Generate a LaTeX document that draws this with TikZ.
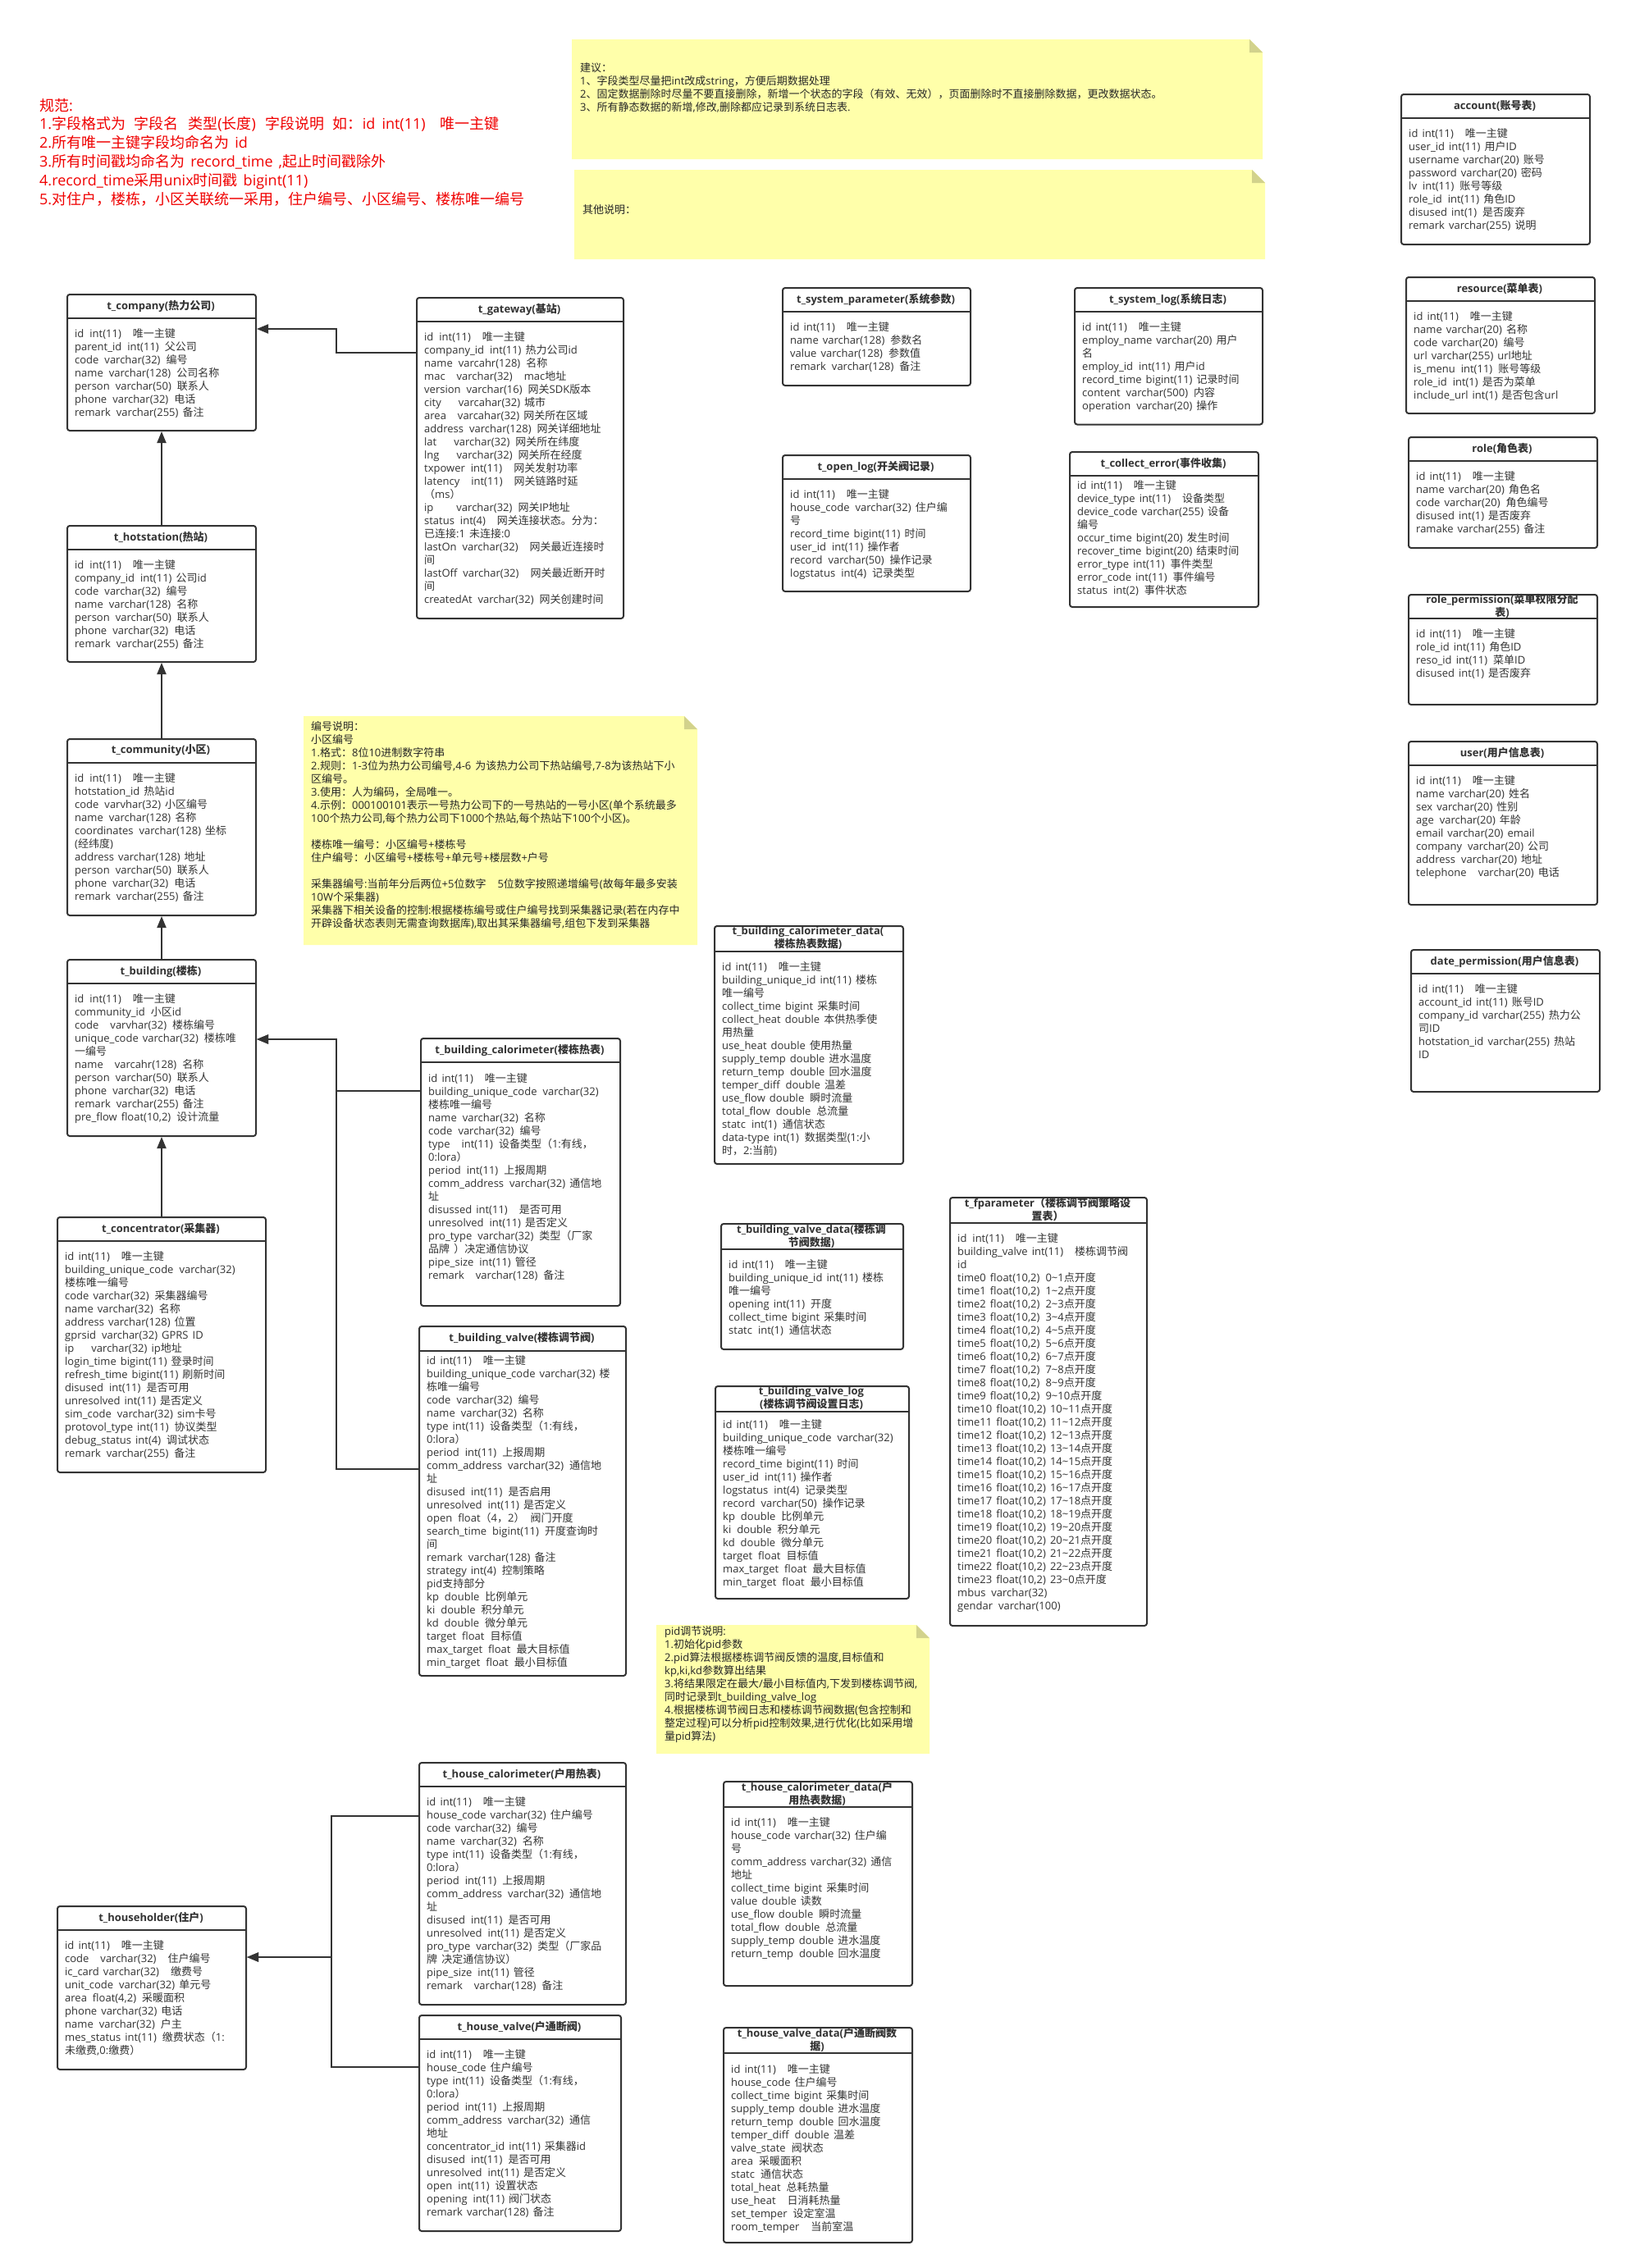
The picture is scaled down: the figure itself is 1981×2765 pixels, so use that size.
\documentclass[tikz,border=0pt]{standalone}
\usepackage{fontspec}
\setmainfont{Open Sans}[WordSpace=1.5]
\newfontfamily\cjkfont{Noto Sans CJK SC}
\XeTeXinterchartokenstate=1
\newXeTeXintercharclass\CJKcls
\newcount\mycnt
\mycnt="2E80
\loop
  \XeTeXcharclass\mycnt=\CJKcls
  \ifnum\mycnt<"9FFF \advance\mycnt by 1
\repeat
\mycnt="FF00
\loop
  \XeTeXcharclass\mycnt=\CJKcls
  \ifnum\mycnt<"FFEF \advance\mycnt by 1
\repeat
\XeTeXinterchartoks 0 \CJKcls = {\begingroup\cjkfont}
\XeTeXinterchartoks 4095 \CJKcls = {\begingroup\cjkfont}
\XeTeXinterchartoks \CJKcls 0 = {\endgroup}
\XeTeXinterchartoks \CJKcls 4095 = {\endgroup}
\usetikzlibrary{arrows.meta}
\definecolor{lc}{HTML}{333333}
\definecolor{tc}{HTML}{333333}
\definecolor{notefill}{HTML}{FFFFAA}
\definecolor{foldfill}{HTML}{D2D28C}
\definecolor{redtxt}{HTML}{F00000}
\newcommand\gA{\hspace{7pt}}
\newcommand\gB{\hspace{14pt}}
\newcommand\tld{\textasciitilde}
\tikzset{
  tblbox/.style={draw=lc, line width=2pt, rounded corners=3pt, fill=white, inner sep=0pt, outer sep=1pt},
  tbltitle/.style={font=\fontsize{13pt}{16pt}\selectfont\bfseries, text=tc, align=center, inner sep=0pt},
  tblbody/.style={font=\fontsize{13pt}{16pt}\selectfont, text=tc, align=left, inner sep=0pt, anchor=north west},
  conn/.style={draw=lc, line width=2pt, -{Triangle[length=14pt,width=11pt]}},
  notetext/.style={font=\fontsize{13pt}{16pt}\selectfont, text=black!85, align=left, inner sep=0pt, anchor=north west},
  redtext/.style={font=\fontsize{18pt}{22.8pt}\selectfont, text=redtxt, align=left, inner sep=0pt, anchor=north west}
}
% name, x1, y1, x2, y2, header y, title, first-line centre y, body
\newcommand\dbt[9]{%
  \node[tblbox, anchor=north west, minimum width={#4-#2}, minimum height={#5-#3}] (#1) at (#2,#3) {};
  \draw[draw=lc, line width=2pt] (#2,#6) -- (#4,#6);
  \node[tbltitle] (#1-title) at ({(#2+#4)/2},{(#3+#6)/2}) {#7};
  \node[tblbody] (#1-body) at ({#2+10},{#8-7.6}) {\rule{0pt}{12.5pt}#9};
}
% name, x1, y1, x2, y2
\newcommand\notebg[5]{%
  \fill[notefill] (#2,#3) -- ({#4-16},#3) -- (#4,{#3+16}) -- (#4,#5) -- (#2,#5) -- cycle;
  \fill[foldfill] ({#4-16},#3) -- (#4,{#3+16}) -- ({#4-16},{#3+16}) -- cycle;
  \coordinate (#1) at (#2,#3);
}
\begin{document}
\begin{tikzpicture}[x=1pt,y=-1pt]
\fill[white] (0,0) rectangle (1981,2765);
\useasboundingbox (0,0) rectangle (1981,2765);

% ---------- red specification text ----------
\node[redtext] (spec) at (48,117.4) {\rule{0pt}{17.5pt}规范:\\
1.字段格式为\hspace{10pt}字段名\hspace{12pt}类型(长度)\hspace{12pt}字段说明\hspace{10pt}如：id\hspace{8pt}int(11)\hspace{18pt}唯一主键\\
2.所有唯一主键字段均命名为 id\\
3.所有时间戳均命名为 record\_time ,起止时间戳除外\\
4.record\_time采用unix时间戳 bigint(11)\\
5.对住户，楼栋，小区关联统一采用，住户编号、小区编号、楼栋唯一编号};

% ---------- notes ----------
\notebg{note1}{697}{48}{1539}{194}
\node[notetext] (note1-text) at (707,74.4) {\rule{0pt}{12.5pt}建议：\\
1、字段类型尽量把int改成string，方便后期数据处理\\
2、固定数据删除时尽量不要直接删除，新增一个状态的字段（有效、无效），页面删除时不直接删除数据，更改数据状态。\\
3、所有静态数据的新增,修改,删除都应记录到系统日志表.};

\notebg{note2}{700}{207}{1542}{316}
\node[notetext] (note2-text) at (710,247.4) {\rule{0pt}{12.5pt}其他说明：};

\notebg{note3}{370}{873}{850}{1152}
\node[notetext] (note3-text) at (379,877.4) {\rule{0pt}{12.5pt}编号说明：\\
小区编号\\
1.格式：8位10进制数字符串\\
2.规则：1-3位为热力公司编号,4-6 为该热力公司下热站编号,7-8为该热站下小\\
区编号。\\
3.使用：人为编码，全局唯一。\\
4.示例：000100101表示一号热力公司下的一号热站的一号小区(单个系统最多\\
100个热力公司,每个热力公司下1000个热站,每个热站下100个小区)。\\
\mbox{}\\
楼栋唯一编号：小区编号+楼栋号\\
住户编号：小区编号+楼栋号+单元号+楼层数+户号\\
\mbox{}\\
采集器编号:当前年分后两位+5位数字\hspace{14pt}5位数字按照递增编号(故每年最多安装\\
10W个采集器)\\
采集器下相关设备的控制:根据楼栋编号或住户编号找到采集器记录(若在内存中\\
开辟设备状态表则无需查询数据库),取出其采集器编号,组包下发到采集器};

\notebg{note4}{800}{1981}{1133}{2138}
\node[notetext] (note4-text) at (810,1980.4) {\rule{0pt}{12.5pt}pid调节说明:\\
1.初始化pid参数\\
2.pid算法根据楼栋调节阀反馈的温度,目标值和\\
kp,ki,kd参数算出结果\\
3.将结果限定在最大/最小目标值内,下发到楼栋调节阀,\\
同时记录到t\_building\_valve\_log\\
4.根据楼栋调节阀日志和楼栋调节阀数据(包含控制和\\
整定过程)可以分析pid控制效果,进行优化(比如采用增\\
量pid算法)};

% ---------- left column ----------
\dbt{company}{81}{358}{311}{524}{388}{t\_company(热力公司)}{406}{%
id\gA int(11)\gB 唯一主键\\
parent\_id\gA int(11)\gA 父公司\\
code\gA varchar(32)\gA 编号\\
name\gA varchar(128)\gA 公司名称\\
person\gA varchar(50)\gA 联系人\\
phone\gA varchar(32)\gA 电话\\
remark\gA varchar(255)\ 备注}

\dbt{hotstation}{81}{640}{311}{806}{670}{t\_hotstation(热站)}{688}{%
id\gA int(11)\gB 唯一主键\\
company\_id\gA int(11)\ 公司id\\
code\gA varchar(32)\gA 编号\\
name\gA varchar(128)\gA 名称\\
person\gA varchar(50)\gA 联系人\\
phone\gA varchar(32)\gA 电话\\
remark\gA varchar(255)\ 备注}

\dbt{community}{81}{900}{311}{1115}{930}{t\_community(小区)}{948}{%
id\gA int(11)\gB 唯一主键\\
hotstation\_id\ 热站id\\
code\gA varvhar(32)\ 小区编号\\
name\gA varchar(128)\ 名称\\
coordinates\gA varchar(128)\ 坐标\\
(经纬度)\\
address\ varchar(128)\ 地址\\
person\gA varchar(50)\gA 联系人\\
phone\gA varchar(32)\gA 电话\\
remark\gA varchar(255)\ 备注}

\dbt{building}{81}{1169}{311}{1384}{1199}{t\_building(楼栋)}{1217.5}{%
id\gA int(11)\gB 唯一主键\\
community\_id\gA 小区id\\
code\gB varvhar(32)\gA 楼栋编号\\
unique\_code varchar(32)\gA 楼栋唯\\
一编号\\
name\gB varcahr(128)\gA 名称\\
person\gA varchar(50)\gA 联系人\\
phone\gA varchar(32)\gA 电话\\
remark\gA varchar(255)\ 备注\\
pre\_flow float(10,2)\gA 设计流量}

\dbt{concentrator}{69}{1483}{323}{1794}{1513}{t\_concentrator(采集器)}{1531}{%
id\ int(11)\gB 唯一主键\\
building\_unique\_code\gA varchar(32)\\
楼栋唯一编号\\
code\ varchar(32)\gA 采集器编号\\
name varchar(32)\gA 名称\\
address varchar(128)\ 位置\\
gprsid\gA varchar(32)\ GPRS ID\\
ip\gB\gA varchar(32)\ ip地址\\
login\_time\ bigint(11)\ 登录时间\\
refresh\_time\ bigint(11) 刷新时间\\
disused\gA int(11)\gA 是否可用\\
unresolved\ int(11)\ 是否定义\\
sim\_code\gA varchar(32)\ sim卡号\\
protovol\_type\ int(11)\gA 协议类型\\
debug\_status\ int(4)\gA 调试状态\\
remark\gA varchar(255)\gA 备注}

\dbt{householder}{69}{2323}{299}{2522}{2353}{t\_householder(住户)}{2371}{%
id\ int(11)\gB 唯一主键\\
code\gB varchar(32)\gB 住户编号\\
ic\_card\ varchar(32)\gB 缴费号\\
unit\_code\gA varchar(32)\ 单元号\\
area\gA float(4,2)\gA 采暖面积\\
phone\ varchar(32)\ 电话\\
name\gA varchar(32)\gA 户主\\
mes\_status\ int(11)\gA 缴费状态（1:\\
未缴费,0:缴费）}

% ---------- second column ----------
\dbt{gateway}{507}{362}{759}{753}{392}{t\_gateway(基站)}{410.5}{%
id\gA int(11)\gB 唯一主键\\
company\_id\gA int(11)\ 热力公司id\\
name\gA varcahr(128)\gA 名称\\
mac\gB varchar(32)\gB mac地址\\
version\gA varchar(16)\gA 网关SDK版本\\
city\gB\gA varcahar(32)\ 城市\\
area\gB varcahar(32) 网关所在区域\\
address\gA varchar(128)\gA 网关详细地址\\
lat\gB\gA varchar(32)\gA 网关所在纬度\\
lng\gB\gA varchar(32)\gA 网关所在经度\\
txpower\gA int(11)\gB 网关发射功率\\
latency\gB int(11)\gB 网关链路时延\\
（ms）\\
ip\gB\gB varchar(32)\gA 网关IP地址\\
status\gA int(4)\gB 网关连接状态。分为：\\
已连接:1 未连接:0\\
lastOn\gA varchar(32)\gB 网关最近连接时\\
间\\
lastOff\gA varchar(32)\gB 网关最近断开时\\
间\\
createdAt\gA varchar(32)\gA 网关创建时间}

\dbt{bcal}{512}{1265}{755}{1591}{1295}{t\_building\_calorimeter(楼栋热表)}{1314}{%
id\ int(11)\gB 唯一主键\\
building\_unique\_code\gA varchar(32)\\
楼栋唯一编号\\
name\gA varchar(32)\gA 名称\\
code\gA varchar(32)\gA 编号\\
type\gB int(11)\gA 设备类型（1:有线，\\
0:lora）\\
period\gA int(11)\gA 上报周期\\
comm\_address\gA varchar(32)\ 通信地\\
址\\
disussed\ int(11)\gB 是否可用\\
unresolved\gA int(11)\ 是否定义\\
pro\_type\gA varchar(32)\gA 类型（厂家\\
品牌 ）决定通信协议\\
pipe\_size\gA int(11)\ 管径\\
remark\gB varchar(128)\gA 备注}

\dbt{bvalve}{510}{1616}{762}{2042}{1646.5}{t\_building\_valve(楼栋调节阀)}{1658}{%
id\ int(11)\gB 唯一主键\\
building\_unique\_code\ varchar(32) 楼\\
栋唯一编号\\
code\gA varchar(32)\gA 编号\\
name\gA varchar(32)\gA 名称\\
type\ int(11)\gA 设备类型（1:有线，\\
0:lora）\\
period\gA int(11)\gA 上报周期\\
comm\_address\gA varchar(32)\gA 通信地\\
址\\
disused\gA int(11)\gA 是否启用\\
unresolved\gA int(11)\ 是否定义\\
open\gA float（4，2）\gA 阀门开度\\
search\_time\gA bigint(11)\gA 开度查询时\\
间\\
remark\gA varchar(128)\ 备注\\
strategy\ int(4)\gA 控制策略\\
pid支持部分\\
kp\gA double\gA 比例单元\\
ki\gA double\gA 积分单元\\
kd\gA double\gA 微分单元\\
target\gA float\gA 目标值\\
max\_target\gA float\gA 最大目标值\\
min\_target\gA float\gA 最小目标值}

\dbt{hcal}{510}{2148}{762}{2443}{2178}{t\_house\_calorimeter(户用热表)}{2196.6}{%
id\ int(11)\gB 唯一主键\\
house\_code\ varchar(32)\ 住户编号\\
code\ varchar(32)\gA 编号\\
name\gA varchar(32)\gA 名称\\
type\ int(11)\gA 设备类型（1:有线，\\
0:lora）\\
period\gA int(11)\gA 上报周期\\
comm\_address\gA varchar(32)\gA 通信地\\
址\\
disused\gA int(11)\gA 是否可用\\
unresolved\gA int(11)\ 是否定义\\
pro\_type\gA varchar(32)\gA 类型（厂家品\\
牌 决定通信协议）\\
pipe\_size\gA int(11)\ 管径\\
remark\gB varchar(128)\gA 备注}

\dbt{hvalve}{510}{2456}{756}{2719}{2486}{t\_house\_valve(户通断阀)}{2504}{%
id\ int(11)\gB 唯一主键\\
house\_code\ 住户编号\\
type\ int(11)\gA 设备类型（1:有线，\\
0:lora）\\
period\gA int(11)\gA 上报周期\\
comm\_address\gA varchar(32)\gA 通信\\
地址\\
concentrator\_id int(11) 采集器id\\
disused\gA int(11)\gA 是否可用\\
unresolved\gA int(11)\ 是否定义\\
open\gA int(11)\gA 设置状态\\
opening\gA int(11)\ 阀门状态\\
remark\ varchar(128)\ 备注}

% ---------- third column ----------
\dbt{sysparam}{953}{350}{1182}{469}{380}{t\_system\_parameter(系统参数)}{398.5}{%
id\ int(11)\gB 唯一主键\\
name\ varchar(128)\gA 参数名\\
value\ varchar(128)\gA 参数值\\
remark\gA varchar(128)\gA 备注}

\dbt{openlog}{953}{554}{1182}{720}{584}{t\_open\_log(开关阀记录)}{602}{%
id\ int(11)\gB 唯一主键\\
house\_code\gA varchar(32)\ 住户编\\
号\\
record\_time\ bigint(11)\ 时间\\
user\_id\gA int(11)\ 操作者\\
record\gA varchar(50)\gA 操作记录\\
logstatus\gA int(4)\gA 记录类型}

\dbt{bcaldata}{870}{1128}{1100}{1418}{1160}{t\_building\_calorimeter\_data(\\楼栋热表数据)}{1178}{%
id\ int(11)\gB 唯一主键\\
building\_unique\_id\ int(11)\ 楼栋\\
唯一编号\\
collect\_time bigint\ 采集时间\\
collect\_heat\ double\ 本供热季使\\
用热量\\
use\_heat\ double\ 使用热量\\
supply\_temp\ double\ 进水温度\\
return\_temp\gA double\ 回水温度\\
temper\_diff\gA double\ 温差\\
use\_flow\ double\gA 瞬时流量\\
total\_flow\gA double\gA 总流量\\
statc\gA int(1)\gA 通信状态\\
data-type\ int(1)\gA 数据类型(1:小\\
时，2:当前)}

\dbt{bvdata}{878}{1491}{1100}{1644}{1523}{t\_building\_valve\_data(楼栋调\\节阀数据)}{1541}{%
id\ int(11)\gB 唯一主键\\
building\_unique\_id\ int(11)\ 楼栋\\
唯一编号\\
opening\ int(11)\gA 开度\\
collect\_time bigint\ 采集时间\\
statc\gA int(1)\gA 通信状态}

\dbt{bvlog}{871}{1689}{1107}{1948}{1721}{t\_building\_valve\_log\\(楼栋调节阀设置日志)}{1736.4}{%
id\ int(11)\gB 唯一主键\\
building\_unique\_code\gA varchar(32)\\
楼栋唯一编号\\
record\_time\ bigint(11)\ 时间\\
user\_id\gA int(11)\ 操作者\\
logstatus\gA int(4)\gA 记录类型\\
record\gA varchar(50)\gA 操作记录\\
kp\gA double\gA 比例单元\\
ki\gA double\gA 积分单元\\
kd\gA double\gA 微分单元\\
target\gA float\gA 目标值\\
max\_target\gA float\gA 最大目标值\\
min\_target\gA float\gA 最小目标值}

\dbt{hcaldata}{881}{2171}{1111}{2420}{2203}{t\_house\_calorimeter\_data(户\\用热表数据)}{2221}{%
id\ int(11)\gB 唯一主键\\
house\_code\ varchar(32)\ 住户编\\
号\\
comm\_address\ varchar(32)\ 通信\\
地址\\
collect\_time bigint\ 采集时间\\
value\ double\ 读数\\
use\_flow\ double\gA 瞬时流量\\
total\_flow\gA double\gA 总流量\\
supply\_temp\ double\ 进水温度\\
return\_temp\gA double\ 回水温度}

\dbt{hvdata}{881}{2471}{1111}{2733}{2503}{t\_house\_valve\_data(户通断阀数\\据)}{2522}{%
id\ int(11)\gB 唯一主键\\
house\_code\ 住户编号\\
collect\_time bigint\ 采集时间\\
supply\_temp\ double\ 进水温度\\
return\_temp\gA double\ 回水温度\\
temper\_diff\gA double\ 温差\\
valve\_state\gA 阀状态\\
area\gA 采暖面积\\
statc\gA 通信状态\\
total\_heat\gA 总耗热量\\
use\_heat\gB 日消耗热量\\
set\_temper\gA 设定室温\\
room\_temper\gB 当前室温}

% ---------- fourth column ----------
\dbt{syslog}{1309}{350}{1538}{516.5}{380}{t\_system\_log(系统日志)}{398.5}{%
id\ int(11)\gB 唯一主键\\
employ\_name\ varchar(20)\ 用户\\
名\\
employ\_id\gA int(11)\ 用户id\\
record\_time\ bigint(11)\ 记录时间\\
content\gA varchar(500)\gA 内容\\
operation\gA varchar(20)\ 操作}

\dbt{collecterr}{1303}{550}{1533}{739}{580}{t\_collect\_error(事件收集)}{591}{%
id\ int(11)\gB 唯一主键\\
device\_type\ int(11)\gB 设备类型\\
device\_code\ varchar(255)\ 设备\\
编号\\
occur\_time\ bigint(20)\ 发生时间\\
recover\_time bigint(20)\ 结束时间\\
error\_type\ int(11)\gA 事件类型\\
error\_code int(11)\gA 事件编号\\
status\gA int(2)\gA 事件状态}

\dbt{fparam}{1157}{1459}{1397}{1981}{1491}{t\_fparameter（楼栋调节阀策略设\\置表）}{1509}{%
id\gA int(11)\gB 唯一主键\\
building\_valve\ int(11)\gB 楼栋调节阀\\
id\\
time0\ float(10,2)\gA 0\tld1点开度\\
time1\ float(10,2)\gA 1\tld2点开度\\
time2\ float(10,2)\gA 2\tld3点开度\\
time3\ float(10,2)\gA 3\tld4点开度\\
time4\ float(10,2)\gA 4\tld5点开度\\
time5\ float(10,2)\gA 5\tld6点开度\\
time6\ float(10,2)\gA 6\tld7点开度\\
time7\ float(10,2)\gA 7\tld8点开度\\
time8\ float(10,2)\gA 8\tld9点开度\\
time9\ float(10,2)\gA 9\tld10点开度\\
time10\ float(10,2) 10\tld11点开度\\
time11\ float(10,2) 11\tld12点开度\\
time12\ float(10,2) 12\tld13点开度\\
time13\ float(10,2) 13\tld14点开度\\
time14\ float(10,2) 14\tld15点开度\\
time15\ float(10,2) 15\tld16点开度\\
time16\ float(10,2)\ 16\tld17点开度\\
time17\ float(10,2)\ 17\tld18点开度\\
time18\ float(10,2)\ 18\tld19点开度\\
time19\ float(10,2)\ 19\tld20点开度\\
time20\ float(10,2)\ 20\tld21点开度\\
time21\ float(10,2)\ 21\tld22点开度\\
time22\ float(10,2)\ 22\tld23点开度\\
time23\ float(10,2)\ 23\tld0点开度\\
mbus\gA varchar(32)\\
gendar\gA varchar(100)}

% ---------- right column ----------
\dbt{account}{1707}{114}{1937}{297}{144}{account(账号表)}{162}{%
id\ int(11)\gB 唯一主键\\
user\_id\ int(11)\ 用户ID\\
username\ varchar(20) 账号\\
password\ varchar(20)\ 密码\\
lv\gA int(11)\gA 账号等级\\
role\_id\gA int(11)\ 角色ID\\
disused int(1)\gA 是否废弃\\
remark\ varchar(255)\ 说明}

\dbt{resource}{1713}{337}{1943}{503}{367}{resource(菜单表)}{385}{%
id\ int(11)\gB 唯一主键\\
name\ varchar(20)\ 名称\\
code\ varchar(20)\gA 编号\\
url\ varchar(255)\ url地址\\
is\_menu\gA int(11)\gA 账号等级\\
role\_id\gA int(1)\ 是否为菜单\\
include\_url int(1)\ 是否包含url}

\dbt{role}{1716}{532}{1946}{667}{562}{role(角色表)}{580}{%
id\ int(11)\gB 唯一主键\\
name\ varchar(20)\ 角色名\\
code\ varchar(20)\gA 角色编号\\
disused\ int(1)\ 是否废弃\\
ramake\ varchar(255)\ 备注}

\dbt{roleperm}{1716}{724}{1946}{858}{754}{role\_permission(菜单权限分配\\表)}{772.5}{%
id\ int(11)\gB 唯一主键\\
role\_id\ int(11)\ 角色ID\\
reso\_id\ int(11)\gA 菜单ID\\
disused\ int(1)\ 是否废弃}

\dbt{user}{1716}{903}{1946}{1102}{933}{user(用户信息表)}{951.6}{%
id\ int(11)\gB 唯一主键\\
name\ varchar(20)\ 姓名\\
sex\ varchar(20)\ 性别\\
age\gA varchar(20)\ 年龄\\
email\ varchar(20)\ email\\
company\gA varchar(20)\ 公司\\
address\gA varchar(20)\ 地址\\
telephone\gB varchar(20)\ 电话}

\dbt{dateperm}{1719}{1157}{1949}{1330}{1187}{date\_permission(用户信息表)}{1205}{%
id\ int(11)\gB 唯一主键\\
account\_id\ int(11)\ 账号ID\\
company\_id\ varchar(255)\ 热力公\\
司ID\\
hotstation\_id\ varchar(255)\ 热站\\
ID}

% ---------- connectors ----------
\draw[conn] (gateway.west |- 0,429.5) -| (410,401) -- (company.east |- 0,401);
\draw[conn] (hotstation.north) -- (company.south);
\draw[conn] (community.north) -- (hotstation.south);
\draw[conn] (building.north) -- (community.south);
\draw[conn] (concentrator.north) -- (building.south);
\draw[conn] (bcal.west |- 0,1330) -| (410,1267) -- (building.east |- 0,1267);
\draw[conn] (bvalve.west |- 0,1791) -| (410,1267) -- (building.east |- 0,1267);
\draw[conn] (hcal.west |- 0,2213.7) -| (404,2386) -- (householder.east |- 0,2386);
\draw[conn] (hvalve.west |- 0,2520) -| (404,2386) -- (householder.east |- 0,2386);
\end{tikzpicture}
\end{document}
